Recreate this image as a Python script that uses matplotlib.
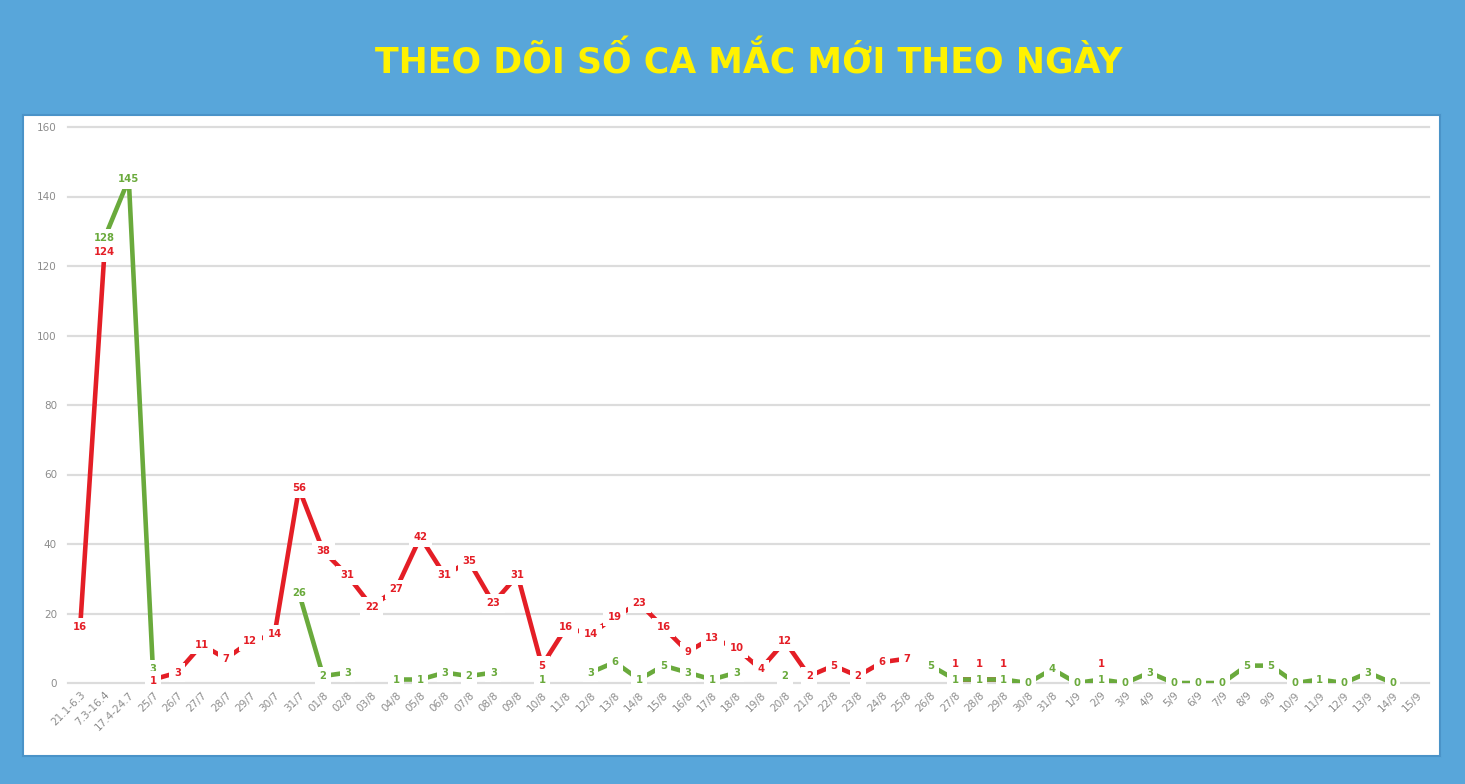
import matplotlib.pyplot as plt
import numpy as np

nan = np.nan

ngay = ['21.1-6.3', '7.3-16.4', '17.4-24.7', '25/7', '26/7', '27/7', '28/7',
        '29/7', '30/7', '31/7', '01/8', '02/8', '03/8', '04/8', '05/8', '06/8',
        '07/8', '08/8', '09/8', '10/8', '11/8', '12/8', '13/8', '14/8', '15/8',
        '16/8', '17/8', '18/8', '19/8', '20/8', '21/8', '22/8', '23/8', '24/8',
        '25/8', '26/8', '27/8', '28/8', '29/8', '30/8', '31/8', '1/9', '2/9',
        '3/9', '4/9', '5/9', '6/9', '7/9', '8/9', '9/9', '10/9', '11/9', '12/9',
        '13/9', '14/9', '15/9']

# ca trong nuoc (do)
ca_do = [16, 124, nan, 1, 3, 11, 7, 12, 14, 56, 38, 31, 22, 27, 42, 31, 35,
         23, 31, 5, 16, 14, 19, 23, 16, 9, 13, 10, 4, 12, 2, 5, 2, 6, 7, nan,
         1, 1, 1, nan, nan, nan, 1, nan, nan, nan, nan, nan, nan, nan, nan,
         nan, nan, nan, nan, nan]

# ca nhap canh (xanh)
ca_xanh = [nan, 128, 145, 3, nan, nan, nan, nan, nan, 26, 2, 3, nan, 1, 1, 3,
           2, 3, nan, 1, nan, 3, 6, 1, 5, 3, 1, 3, nan, 2, nan, nan, nan, nan,
           nan, 5, 1, 1, 1, 0, 4, 0, 1, 0, 3, 0, 0, 0, 5, 5, 0, 1, 0, 3, 0, nan]

tieu_de = 'THEO DÕI SỐ CA MẮC MỚI THEO NGÀY'

mau_nen = '#58a6da'
mau_do = '#e41e26'
mau_xanh = '#6aaa3c'

fig = plt.figure(figsize=(14.65, 7.84), dpi=100)
fig.patch.set_facecolor(mau_nen)

# khung trang
nen = fig.add_axes([23 / 1465, 1 - 756 / 784, (1440 - 23) / 1465,
                    (756 - 115) / 784])
nen.set_facecolor('white')
nen.set_xticks([])
nen.set_yticks([])
for s in nen.spines.values():
    s.set_color('#4a93c8')
    s.set_linewidth(1.5)

t = fig.text(0.511, 0.921, tieu_de, color='#fff200', fontsize=30,
             fontweight='bold', ha='center', va='center')
# chinh co chu cho vua be rong ~747px
fig.canvas.draw()
w = t.get_window_extent().width
t.set_fontsize(30 * 747 / w)

ax = fig.add_axes([68 / 1465, 1 - 683 / 784, (1429 - 68) / 1465,
                   (683 - 127) / 784])
ax.set_facecolor('none')

x = np.arange(len(ngay))
ax.plot(x, ca_do, color=mau_do, lw=3.3, zorder=3)
ax.plot(x, ca_xanh, color=mau_xanh, lw=3.3, zorder=3)


def ghi_nhan(i, gia_tri, mau, dich):
    ax.annotate(str(int(gia_tri)), (x[i], gia_tri), xytext=(0, dich),
                textcoords='offset points', color=mau, fontsize=7.2,
                fontweight='bold', ha='center', va='center', zorder=5,
                bbox=dict(boxstyle='square,pad=0.45', fc='white', ec='none'))


for i in range(len(ngay)):
    do, xanh = ca_do[i], ca_xanh[i]
    dich_do, dich_xanh = 0, 0
    do_truoc = False
    if not np.isnan(do) and not np.isnan(xanh) and abs(do - xanh) <= 3:
        # tach nhan khi hai diem sat nhau
        if do == xanh:
            dich_do = 11
            do_truoc = True
        elif xanh > do:
            dich_xanh, dich_do = 2.5, -1
        else:
            dich_do, dich_xanh = 2.5, -1
    nhan = [(xanh, mau_xanh, dich_xanh), (do, mau_do, dich_do)]
    if do_truoc:
        nhan.reverse()
    for gia_tri, mau, dich in nhan:
        if not np.isnan(gia_tri):
            ghi_nhan(i, gia_tri, mau, dich)

ax.set_xlim(-0.5, len(ngay) - 0.5)
ax.set_ylim(0, 160)
ax.set_yticks(range(0, 161, 20))
ax.set_xticks(x)
ax.set_xticklabels(ngay, rotation=45, ha='right', rotation_mode='anchor')
ax.tick_params(axis='both', length=0, colors='#8c8c8c', labelsize=7.5)
ax.tick_params(axis='y', pad=8)
ax.tick_params(axis='x', pad=5)
ax.grid(axis='y', color='#dcdcdc', lw=1.6, zorder=1)
ax.set_axisbelow(True)
ax.xaxis.set_zorder(6)
for s in ax.spines.values():
    s.set_visible(False)
for g in ax.get_ygridlines():
    g.set_clip_on(False)

fig.savefig('out.png', dpi=100, facecolor=fig.get_facecolor())
